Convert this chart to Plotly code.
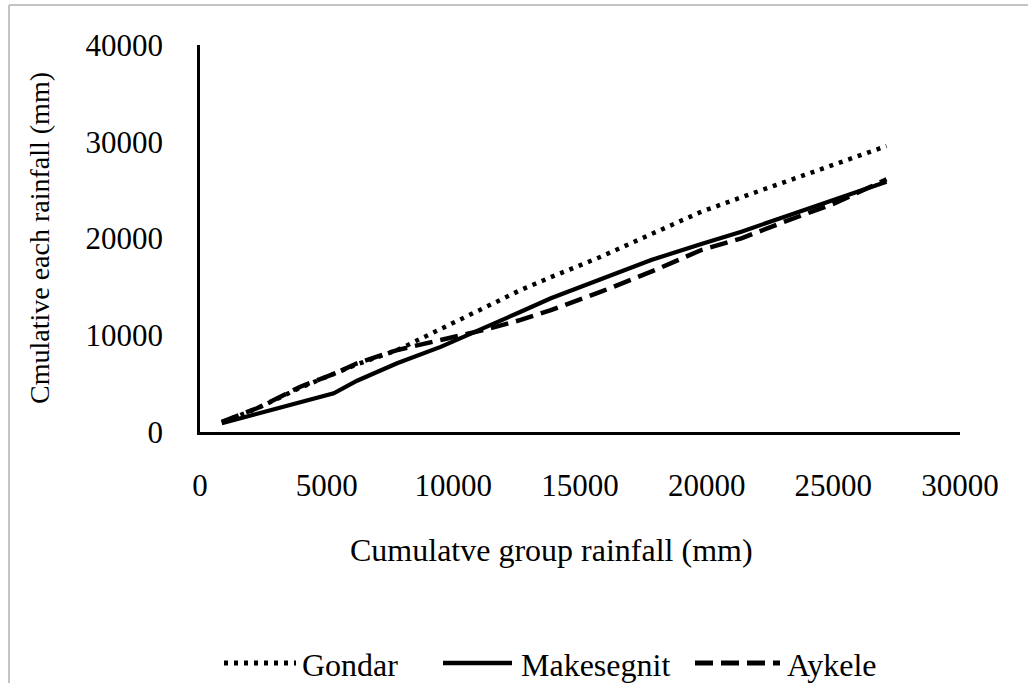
import plotly.graph_objects as go

# Cumulative group rainfall (x) and cumulative station rainfall (y), mm
group_cum = [860, 2250, 3960, 5280, 6200, 7780, 9500, 11200, 12660, 13850,
             15830, 17810, 19790, 21370, 23080, 25060, 27100]
gondar = [1000, 2430, 4580, 5950, 7000, 8450, 10610, 12780, 14680, 16000,
          18120, 20450, 22770, 24260, 25870, 27730, 29560]
makesegnit = [900, 1880, 3080, 4000, 5300, 7100, 8800, 10700, 12430, 13820,
              15800, 17780, 19430, 20700, 22250, 23980, 25870]
aykele = [1060, 2450, 4680, 6000, 7100, 8470, 9510, 10540, 11580, 12600,
          14500, 16570, 18810, 20020, 21740, 23640, 26120]

series_names = ["Gondar", "Makesegnit", "Aykele"]
x_ticks = [0, 5000, 10000, 15000, 20000, 25000, 30000]
y_ticks = [0, 10000, 20000, 30000, 40000]

FONT = "Liberation Serif"
W, H = 1028, 683
L, R, T, B = 200, 68, 45, 251
pw, ph = W - L - R, H - T - B

DOT = "4px,6px"
DASH = "18px,8px"
styles = [dict(color="black", width=4.5, dash=DOT),
          dict(color="black", width=4.2, dash="solid"),
          dict(color="black", width=4.5, dash=DASH)]


def px(x):
    return (x - L) / pw


def py(y):
    return (H - B - y) / ph


fig = go.Figure()
for name, ys, st in zip(series_names, [gondar, makesegnit, aykele], styles):
    fig.add_trace(go.Scatter(x=group_cum, y=ys, name=name, mode="lines",
                             line=st, showlegend=False))

# Legend row drawn below the x-axis title: sample line + label per series
legend_rows = [(224, 296, 300), (443, 512, 519), (695, 780, 785)]
LEG_Y = 665
shapes = [
    dict(type="line", xref="paper", yref="paper", x0=px(9), x1=px(1028),
         y0=py(5), y1=py(5), line=dict(color="#c4c4c4", width=2)),
    dict(type="line", xref="paper", yref="paper", x0=px(9), x1=px(9),
         y0=py(5), y1=py(683), line=dict(color="#c4c4c4", width=2)),
]
annotations = [
    dict(text="Cumulatve group rainfall (mm)", xref="paper", yref="paper",
         x=px(551), y=py(550), xanchor="center", yanchor="middle",
         showarrow=False, font=dict(family=FONT, size=32, color="black")),
    dict(text="Cmulative each rainfall (mm)", xref="paper", yref="paper",
         x=px(40), y=py(238), xanchor="center", yanchor="middle", textangle=-90,
         showarrow=False, font=dict(family=FONT, size=28, color="black")),
]
for name, st, (x0, x1, tx) in zip(series_names, styles, legend_rows):
    shapes.append(dict(type="line", xref="paper", yref="paper",
                       x0=px(x0), x1=px(x1), y0=py(LEG_Y - 2), y1=py(LEG_Y - 2),
                       line=dict(color=st["color"], width=st["width"] + 0.5, dash=st["dash"])))
    annotations.append(dict(text=name, xref="paper", yref="paper", x=px(tx), y=py(LEG_Y),
                            xanchor="left", yanchor="middle", showarrow=False,
                            font=dict(family=FONT, size=32, color="black")))

fig.update_layout(
    width=W, height=H,
    margin=dict(l=L, r=R, t=T, b=B, autoexpand=False),
    paper_bgcolor="white", plot_bgcolor="white",
    font=dict(family=FONT, size=31, color="black"),
    showlegend=False,
    xaxis=dict(range=[0, 30000], tickvals=x_ticks, ticktext=[str(v) for v in x_ticks],
               showgrid=False, zeroline=False, showline=True, linecolor="black",
               linewidth=2.5, ticks="", ticklabelstandoff=24, automargin=False,
               tickfont=dict(family=FONT, size=31, color="black")),
    yaxis=dict(range=[0, 40000], tickvals=y_ticks, ticktext=[str(v) for v in y_ticks],
               showgrid=False, zeroline=False, showline=True, linecolor="black",
               linewidth=2.5, ticks="", ticklabelstandoff=28, automargin=False,
               tickfont=dict(family=FONT, size=31, color="black")),
    annotations=annotations,
    shapes=shapes,
)

fig.write_html("out.html")
